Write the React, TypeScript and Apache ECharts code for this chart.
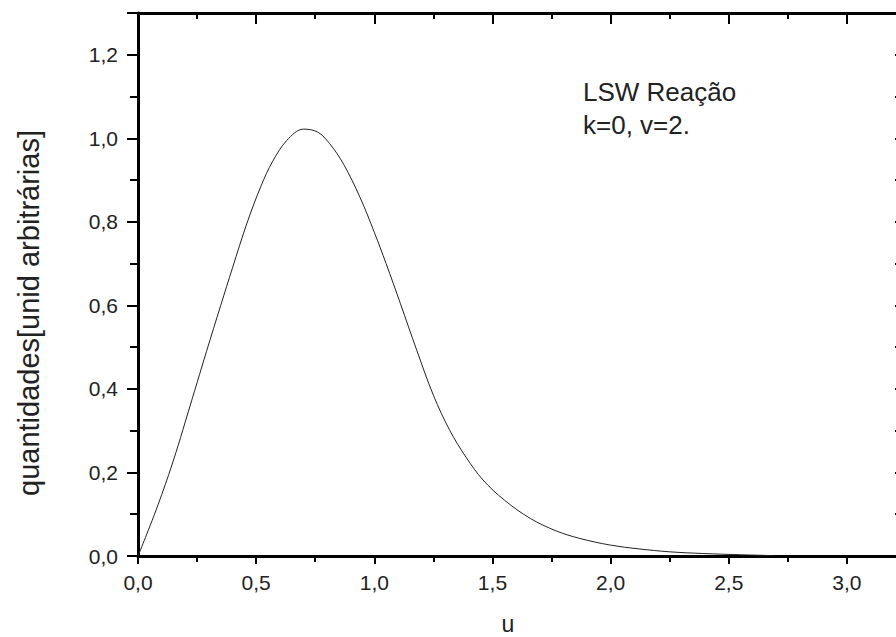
import React, { useEffect, useRef } from "react";
import * as echarts from "echarts";

const uValues = [0, 0.07, 0.13, 0.17, 0.21, 0.25, 0.29, 0.35, 0.40, 0.46, 0.52, 0.57, 0.63, 0.70, 0.76, 0.81, 0.87, 0.94, 1.00, 1.05, 1.11, 1.18, 1.25, 1.32, 1.39, 1.46, 1.55, 1.66, 1.77, 1.87, 2.00, 2.12, 2.25, 2.39, 2.55, 2.69];
const qValues = [0, 0.10, 0.195, 0.265, 0.34, 0.415, 0.49, 0.60, 0.69, 0.795, 0.885, 0.945, 0.995, 1.022, 1.015, 0.988, 0.938, 0.858, 0.775, 0.70, 0.605, 0.492, 0.385, 0.30, 0.235, 0.182, 0.134, 0.090, 0.060, 0.042, 0.026, 0.017, 0.010, 0.006, 0.003, 0.001];

const xTitle = "u";
const yTitle = "quantidades[unid arbitrárias]";
const noteLines = ["LSW Reação", "k=0, v=2."];

const FONT = "'Liberation Sans', Arial, sans-serif";

const fmt = (step: number) => (v: number) => {
  const r = v / step;
  if (Math.abs(r - Math.round(r)) > 1e-6) return "";
  return v.toFixed(1).replace(".", ",");
};

export default function App() {
  const ref = useRef<HTMLDivElement>(null);
  useEffect(() => {
    if (!ref.current) return;
    const chart = echarts.init(ref.current, undefined, { renderer: "svg" });
    const black = "#000";
    const axisCommon = {
      type: "value" as const,
      splitLine: { show: false },
      minorSplitLine: { show: false },
    };
    chart.setOption({
      animation: false,
      backgroundColor: "#fff",
      grid: { left: 138, top: 13, width: 768, height: 543, containLabel: false },
      xAxis: [
        {
          ...axisCommon,
          min: 0,
          max: 3.25,
          interval: 0.5,
          position: "bottom",
          axisLine: { lineStyle: { color: black, width: 3 } },
          axisTick: { inside: false, length: 8, lineStyle: { color: black, width: 2 } },
          minorTick: { show: true, splitNumber: 2, length: 6, lineStyle: { color: black, width: 2 } },
          axisLabel: { formatter: fmt(0.5), fontSize: 21, color: "#222", margin: 16, fontFamily: FONT, showMaxLabel: false },
        },
        {
          ...axisCommon,
          min: 0,
          max: 3.25,
          interval: 0.5,
          position: "top",
          axisLine: { onZero: false, lineStyle: { color: black, width: 3 } },
          axisTick: { inside: true, length: 11, lineStyle: { color: black, width: 2 } },
          minorTick: { show: true, splitNumber: 2, length: 6, lineStyle: { color: black, width: 2 } },
          axisLabel: { show: false },
        },
      ],
      yAxis: [
        {
          ...axisCommon,
          min: 0,
          max: 1.3,
          interval: 0.2,
          position: "left",
          axisLine: { lineStyle: { color: black, width: 3 } },
          axisTick: { inside: false, length: 11, lineStyle: { color: black, width: 2 } },
          minorTick: { show: true, splitNumber: 2, length: 8, lineStyle: { color: black, width: 2 } },
          axisLabel: { formatter: fmt(0.2), fontSize: 21, color: "#222", margin: 20, fontFamily: FONT, showMaxLabel: false },
        },
        {
          ...axisCommon,
          min: 0,
          max: 1.3,
          interval: 0.2,
          position: "right",
          axisLine: { onZero: false, lineStyle: { color: black, width: 3 } },
          axisTick: { inside: true, length: 11, lineStyle: { color: black, width: 2 } },
          minorTick: { show: true, splitNumber: 2, length: 11, lineStyle: { color: black, width: 2 } },
          axisLabel: { show: false },
        },
      ],
      series: [
        {
          type: "line",
          xAxisIndex: 0,
          yAxisIndex: 0,
          data: uValues.map((u, i) => [u, qValues[i]]),
          showSymbol: false,
          smooth: 0.35,
          lineStyle: { color: "#222", width: 1 },
        },
      ],
      graphic: [
        {
          type: "text",
          x: 29,
          y: 313,
          rotation: Math.PI / 2,
          style: { text: yTitle, fontSize: 29, fontFamily: FONT, fill: "#222", textAlign: "center", textVerticalAlign: "middle" },
        },
        {
          type: "text",
          x: 508,
          y: 624,
          style: { text: xTitle, fontSize: 23, fontFamily: FONT, fill: "#222", textAlign: "center", textVerticalAlign: "middle" },
        },
        {
          type: "text",
          x: 583,
          y: 92,
          style: { text: noteLines[0], fontSize: 26, fontFamily: FONT, fill: "#222", textAlign: "left", textVerticalAlign: "middle" },
        },
        {
          type: "text",
          x: 583,
          y: 125,
          style: { text: noteLines[1], fontSize: 26, fontFamily: FONT, fill: "#222", textAlign: "left", textVerticalAlign: "middle" },
        },
      ],
    });
    return () => chart.dispose();
  }, []);
  return (
    <div style={{ position: "absolute", left: 0, top: 0, width: 896, height: 637, overflow: "hidden", background: "#fff" }}>
      <div ref={ref} style={{ width: 920, height: 637 }} />
    </div>
  );
}
